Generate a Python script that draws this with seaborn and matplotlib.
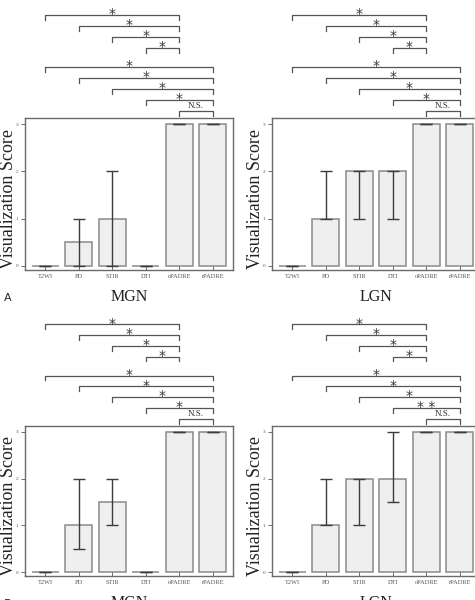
import numpy as np
import seaborn as sns
import matplotlib.pyplot as plt

# secuencias (eje x)
sequences = ["T2WI", "PD", "STIR", "DTI", "oPADRE", "rPADRE"]

# medianas y rangos
mgn_a_med = [0, 0.5, 1, 0, 3, 3]
mgn_a_low = [0, 0, 0, 0, 3, 3]
mgn_a_high = [0, 1, 2, 0, 3, 3]

lgn_a_med = [0, 1, 2, 2, 3, 3]
lgn_a_low = [0, 1, 1, 1, 3, 3]
lgn_a_high = [0, 2, 2, 2, 3, 3]

mgn_b_med = [0, 1, 1.5, 0, 3, 3]
mgn_b_low = [0, 0.5, 1, 0, 3, 3]
mgn_b_high = [0, 2, 2, 0, 3, 3]

lgn_b_med = [0, 1, 2, 2, 3, 3]
lgn_b_low = [0, 1, 1, 1.5, 3, 3]
lgn_b_high = [0, 2, 2, 3, 3, 3]

# comparaciones contra oPADRE y contra rPADRE (de abajo hacia arriba)
vs_opadre_from = ["DTI", "STIR", "PD", "T2WI"]
vs_opadre_lbl = ["*", "*", "*", "*"]
vs_rpadre_from = ["oPADRE", "DTI", "STIR", "PD", "T2WI"]
vs_rpadre_lbl = ["N.S.", "*", "*", "*", "*"]
vs_rpadre_lbl_lgn_b = ["N.S.", "* *", "*", "*", "*"]

yticks = [0, 1, 2, 3]

serif = ["Liberation Serif", "DejaVu Serif"]
plt.rcParams["font.family"] = serif

fig = plt.figure(figsize=(4.75, 6), dpi=100)

panels = [
    ([0.0526, 0.55, 0.4379, 0.2533], mgn_a_med, mgn_a_low, mgn_a_high, "MGN", vs_rpadre_lbl),
    ([0.5726, 0.55, 0.4379, 0.2533], lgn_a_med, lgn_a_low, lgn_a_high, "LGN", vs_rpadre_lbl),
    ([0.0526, 0.04, 0.4379, 0.25], mgn_b_med, mgn_b_low, mgn_b_high, "MGN", vs_rpadre_lbl),
    ([0.5726, 0.04, 0.4379, 0.25], lgn_b_med, lgn_b_low, lgn_b_high, "LGN", vs_rpadre_lbl_lgn_b),
]

line_col = "#555555"


def bracket(ax, a, b, y, label):
    x1 = sequences.index(a)
    x2 = sequences.index(b)
    ax.plot([x1, x1, x2, x2], [y - 0.1, y, y, y - 0.1], color=line_col,
            lw=0.9, clip_on=False)
    xm = (x1 + x2) / 2
    if label == "N.S.":
        ax.annotate(label, xy=(xm, y), xytext=(0, 0.5), textcoords="offset points",
                    ha="center", va="bottom", fontsize=6.5, color="#333333",
                    annotation_clip=False)
    else:
        ax.annotate(label, xy=(xm, y), xytext=(0, 0.5), textcoords="offset points",
                    ha="center", va="center", fontsize=10, color="#3a3a3a",
                    family=["DejaVu Sans"], annotation_clip=False)


for rect, med, low, high, name, rp_lbl in panels:
    ax = fig.add_axes(rect)
    sns.barplot(x=sequences, y=med, color="#efefef", edgecolor="#8a8a8a",
                linewidth=1.1, saturation=1, errorbar=None, width=0.8, ax=ax)
    pos = np.arange(len(sequences))
    med_a = np.array(med)
    yerr = [med_a - np.array(low), np.array(high) - med_a]
    ax.errorbar(pos, med_a, yerr=yerr, fmt="none", ecolor="#3c3c3c",
                elinewidth=1, capsize=4.3, capthick=1)

    ax.set_xlim(-0.6, 5.6)
    ax.set_ylim(-0.085, 3.127)
    ax.set_yticks(yticks)
    ax.tick_params(axis="y", direction="out", length=3, width=0.6, pad=2,
                   labelsize=3.8, colors="#555555")
    ax.tick_params(axis="x", direction="in", length=3, width=0.6, pad=3,
                   labelsize=4.6, colors="#555555")
    for s in ax.spines.values():
        s.set_color("#6a6a6a")
        s.set_linewidth(1)

    ax.set_ylabel("Visualization Score", fontsize=13, color="#222222")
    ax.yaxis.set_label_coords(-0.04, 0.47)
    ax.set_xlabel(name, fontsize=11.5, labelpad=7, color="#222222")

    # corchetes de significancia
    y = 3.28
    for frm, lbl in zip(vs_rpadre_from, rp_lbl):
        bracket(ax, frm, "rPADRE", y, lbl)
        y += 0.232
    y = 4.61
    for frm, lbl in zip(vs_opadre_from, vs_opadre_lbl):
        bracket(ax, frm, "oPADRE", y, lbl)
        y += 0.232

fig.text(8 / 475, 1 - 298 / 600, "A", fontsize=8, family=["DejaVu Sans"],
         ha="center", va="center", color="#222222")
fig.text(8 / 475, 1 - 604 / 600, "B", fontsize=8, family=["DejaVu Sans"],
         ha="center", va="center", color="#222222")

plt.savefig("out.png", dpi=100)
